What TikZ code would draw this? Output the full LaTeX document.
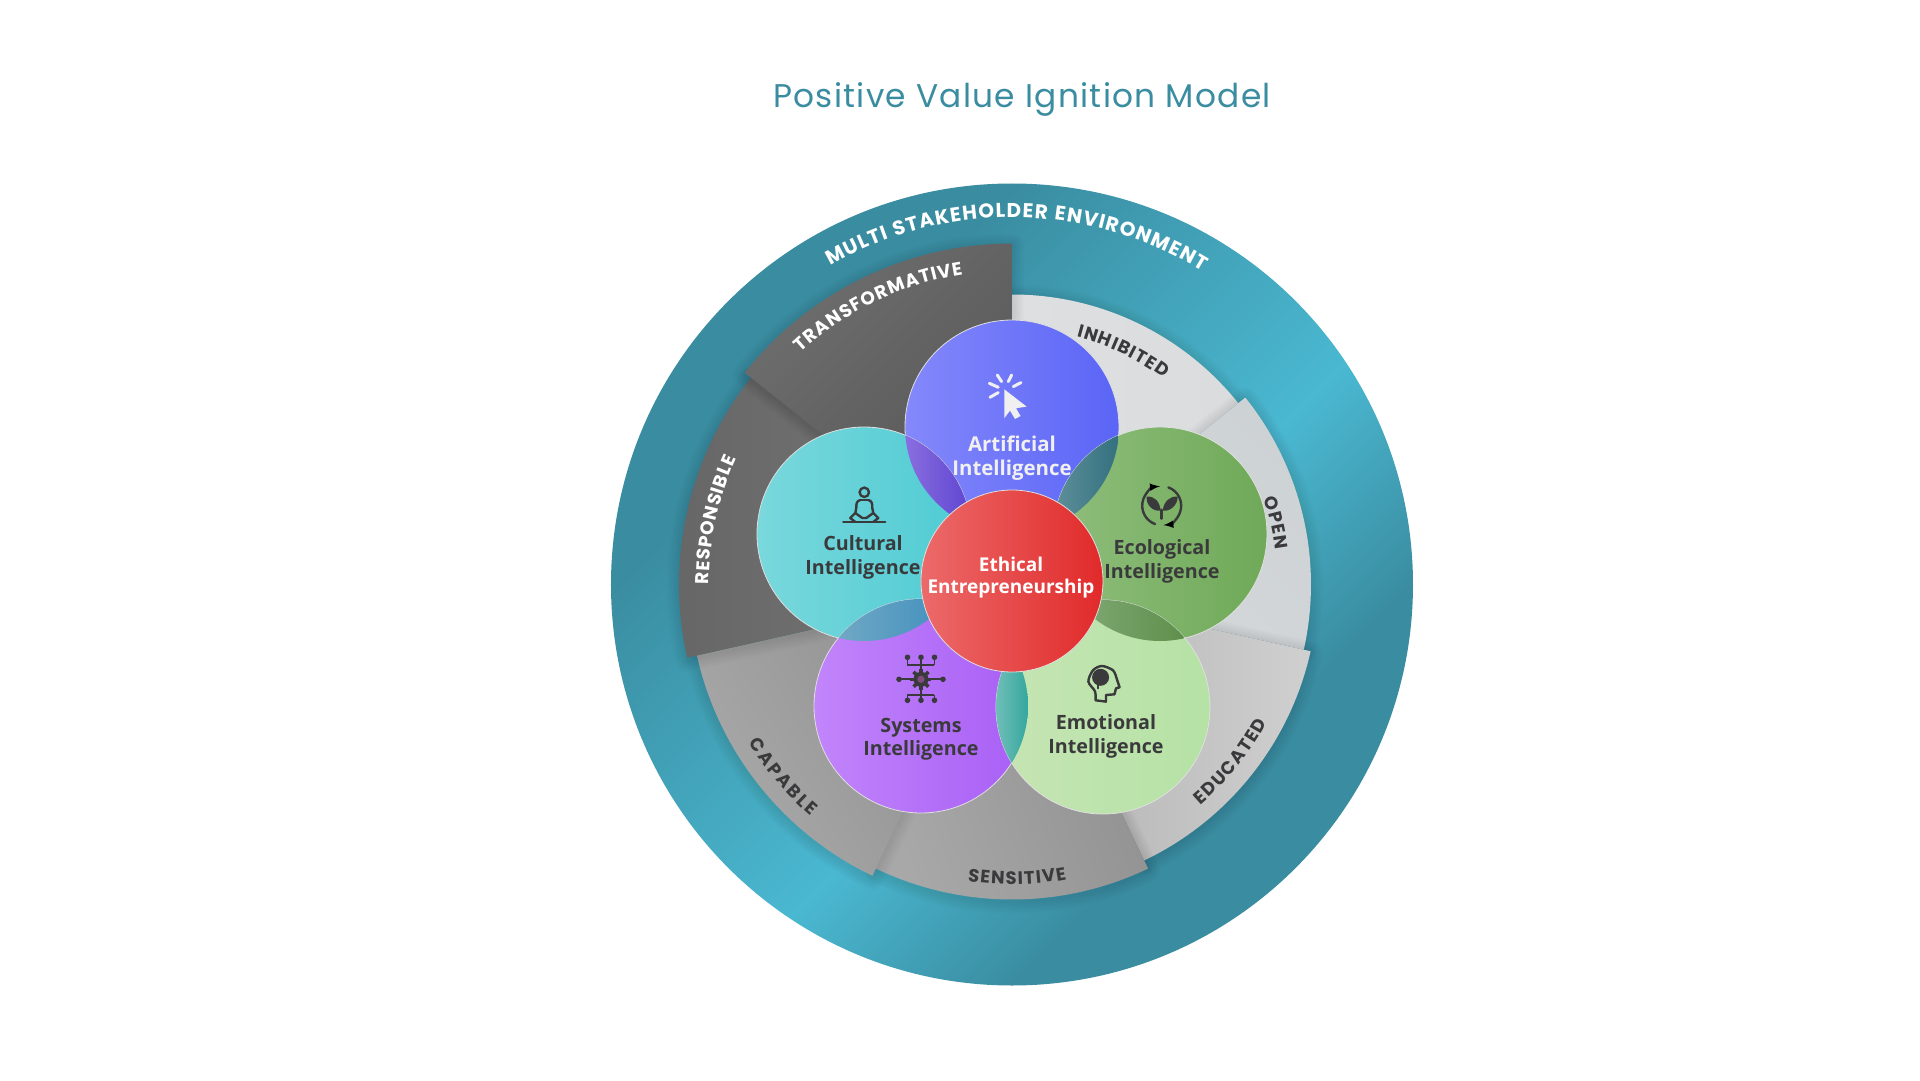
\documentclass[tikz,border=0pt]{standalone}
\usepackage{xcolor}
\usepackage{fontspec}
\setmainfont{Open Sans}
\newfontfamily\ringfont{Poppins}
\newfontfamily\titlefont[LetterSpace=4]{Poppins}
\usetikzlibrary{positioning, calc, decorations.text}
\definecolor{RingDark}{RGB}{58, 140, 160}
\definecolor{RingLight}{RGB}{74, 184, 209}
\definecolor{InkDark}{RGB}{58, 58, 60}
\pgfdeclarehorizontalshading{ringshade}{100bp}{color(0bp)=(RingDark); color(32bp)=(RingDark); color(55bp)=(RingLight); color(68bp)=(RingDark); color(100bp)=(RingDark)}
% one stepped wedge of the ring: radius, from, to, colours, angle
\newcommand{\ringsector}[6]{
    \foreach \w in {3,6,...,24} {
        \draw[black, opacity=0.013, line width=\w pt, line join=round, yshift=-2pt] (0,0) -- (#2:#1) arc[start angle=#2, end angle=#3, radius=#1] -- cycle;
    }
    \shade[left color=#4, right color=#5, shading angle=#6] (0,0) -- (#2:#1) arc[start angle=#2, end angle=#3, radius=#1] -- cycle;
}
% overlap of two circles: first, second, box corners, colours
\newcommand{\lens}[6]{
    \begin{scope}
        \clip (#1) circle (107);
        \clip (#2) circle (107);
        \shade[left color=#5, right color=#6] #3 rectangle #4;
    \end{scope}
}
\begin{document}
\begin{tikzpicture}[x=1pt, y=1pt]
    \tikzset{
        intel_circle/.style={circle, minimum size=214pt, inner sep=0pt, draw=white!75!gray, line width=0.8pt},
        intel_text/.style={font=\bfseries\fontsize{19.7}{23.5}\selectfont, align=center, text=InkDark},
        arc_text/.style n args={3}{decorate, decoration={text along path, text align={fit to path}, text color=#1, text={|\ringfont\bfseries\fontsize{#2}{#2}\selectfont|#3}}},
        icon_line/.style={draw=InkDark, line width=2.4pt, line cap=round, line join=round},
        ray_line/.style={draw=white!88!gray, line width=3pt, line cap=round}
    }
    \useasboundingbox (-1012,-495.5) rectangle (908,584.5);

    \node[font=\titlefont\fontsize{32.8}{36}\selectfont, text=RingDark] (title) at (10,485) {Positive Value Ignition Model};

    \shade[shading=ringshade, shading angle=-45] (0,0) circle (401);

    \ringsector{290}{38.7}{90}{{rgb,255:red,222;green,223;blue,225}}{{rgb,255:red,218;green,220;blue,222}}{90}
    \ringsector{299}{-12.6}{38.7}{{rgb,255:red,214;green,217;blue,219}}{{rgb,255:red,205;green,210;blue,212}}{135}
    \ringsector{306}{-64.4}{-12.6}{gray!62}{gray!37}{90}
    \ringsector{315}{-115.6}{-64.4}{gray!68}{gray!88}{110}
    \ringsector{323}{-167.3}{-115.6}{gray!68}{gray!90}{120}
    \ringsector{333}{141.6}{192.7}{black!60}{black!53}{90}
    \ringsector{341}{90}{141.6}{black!57}{black!67}{45}

    \path[arc_text={white}{20}{MULTI STAKEHOLDER ENVIRONMENT}] (119.7:367) arc[start angle=119.7, end angle=58.7, radius=367];
    \path[arc_text={white}{18.5}{TRANSFORMATIVE}] (132.3:314) arc[start angle=132.3, end angle=99, radius=314];
    \path[arc_text={white}{18.5}{RESPONSIBLE}] (180:303) arc[start angle=180, end angle=155.5, radius=303];
    \path[arc_text={InkDark}{18}{INHIBITED}] (75.4:256) arc[start angle=75.4, end angle=53.6, radius=256];
    \path[arc_text={InkDark}{18}{OPEN}] (18.8:266) arc[start angle=18.8, end angle=7.4, radius=266];
    \path[arc_text={InkDark}{18}{EDUCATED}] (310.5:290) arc[start angle=310.5, end angle=331.5, radius=290];
    \path[arc_text={InkDark}{18}{SENSITIVE}] (261.5:300) arc[start angle=261.5, end angle=280.5, radius=300];
    \path[arc_text={InkDark}{18}{CAPABLE}] (211:307) arc[start angle=211, end angle=229, radius=307];

    \node[intel_circle, left color={rgb,255:red,132;green,136;blue,251}, right color={rgb,255:red,90;green,101;blue,246}] (ai) at (0,157.5) {};
    \node[intel_circle, left color={rgb,255:red,121;green,216;blue,220}, right color={rgb,255:red,78;green,203;blue,211}] (cultural) at (-148,50.5) {};
    \node[intel_circle, left color={rgb,255:red,143;green,190;blue,124}, right color={rgb,255:red,111;green,169;blue,88}] (ecological) at (148,50.5) {};
    \node[intel_circle, left color={rgb,255:red,194;green,133;blue,251}, right color={rgb,255:red,168;green,94;blue,245}] (systems) at (-91,-121.5) {};
    \node[intel_circle, left color={rgb,255:red,198;green,229;blue,180}, right color={rgb,255:red,181;green,226;blue,165}] (emotional) at (91,-122.5) {};

    \lens{ai.center}{cultural.center}{(-107,30)}{(-41,160)}{{rgb,255:red,138;green,110;blue,224}}{{rgb,255:red,94;green,69;blue,208}}
    \lens{ai.center}{ecological.center}{(41,30)}{(107,160)}{{rgb,255:red,95;green,144;blue,154}}{{rgb,255:red,51;green,112;blue,127}}
    \lens{cultural.center}{systems.center}{(-173,-60)}{(-83,-10)}{{rgb,255:red,111;green,168;blue,196}}{{rgb,255:red,74;green,148;blue,191}}
    \lens{ecological.center}{emotional.center}{(83,-60)}{(172,-10)}{{rgb,255:red,122;green,165;blue,110}}{{rgb,255:red,95;green,143;blue,76}}
    \lens{systems.center}{emotional.center}{(-16,-200)}{(16,-40)}{{rgb,255:red,111;green,191;blue,184}}{{rgb,255:red,53;green,167;blue,158}}

    \node[circle, minimum size=182pt, inner sep=0pt, draw=white!75!gray, line width=0.8pt, left color={rgb,255:red,236;green,106;blue,106}, right color={rgb,255:red,225;green,42;blue,42}] (ethical) at (0,3.5) {};

    \node[intel_text, text=white!88!gray, font=\bfseries\fontsize{20.4}{23.5}\selectfont] (ai_text) at (0,126.5) {Artificial\\Intelligence};
    \node[intel_text] (cultural_text) at (-149,27) {Cultural\\Intelligence};
    \node[intel_text] (ecological_text) at (150,23) {Ecological\\Intelligence};
    \node[intel_text] (systems_text) at (-91,-154.5) {Systems\\Intelligence};
    \node[intel_text] (emotional_text) at (94,-152) {Emotional\\Intelligence};
    \node[intel_text, text=white, font=\bfseries\fontsize{19}{22.5}\selectfont] (ethical_text) at (-1,7) {Ethical\\Entrepreneurship};

    % cursor icon
    \begin{scope}[shift={(-7.7,195.2)}]
        \fill[white!88!gray] (0,0) -- (22.3,-17.3) -- (11.7,-19) -- (16.3,-26.7) -- (10.7,-29.7) -- (5.7,-21.3) -- (0,-29) -- cycle;
        \draw[ray_line] (-7,14.3) -- (-2.7,7.7);
        \draw[ray_line] (7.3,14.3) -- (4,7.7);
        \draw[ray_line] (16.7,6.7) -- (9,2.7);
        \draw[ray_line] (-15,6) -- (-6,2);
        \draw[ray_line] (-14.3,-8) -- (-6,-3.3);
    \end{scope}

    % meditation icon
    \begin{scope}[shift={(-147.7,62.5)}]
        \draw[icon_line] (-21,0) -- (21,0);
        \draw[icon_line] (0,29.7) circle (4.7);
        \draw[icon_line] (-4,22) .. controls (-8,21) and (-8,18) .. (-8,14) -- (-9,9) -- (-14,4) -- (-9,0);
        \draw[icon_line] (4,22) .. controls (8,21) and (8,18) .. (8,14) -- (9,9) -- (14,4) -- (9,0);
        \draw[icon_line] (-4,22) -- (4,22);
        \draw[icon_line] (-9,9) -- (-2,4) -- (2,4) -- (9,9);
    \end{scope}

    % leaf icon
    \begin{scope}[shift={(149.7,78.8)}]
        \draw[icon_line, -latex] (250:19.5) arc[start angle=250, end angle=95, radius=19.5];
        \draw[icon_line, -latex] (70:19.5) arc[start angle=70, end angle=-85, radius=19.5];
        \fill[InkDark] (-1,-5) .. controls (-2,4) and (-7,10) .. (-15,9) .. controls (-16,1) and (-9,-6) .. (-1,-5) -- cycle;
        \fill[InkDark] (1,-5) .. controls (2,4) and (8,10) .. (16,9) .. controls (16,1) and (9,-6) .. (1,-5) -- cycle;
        \draw[icon_line] (0,-4) -- (0,-13);
    \end{scope}

    % gear icon
    \begin{scope}[shift={(-91,-94.8)}]
        \foreach \a in {0,45,...,315} { \draw[draw=InkDark, line width=3.6pt] (\a:5) -- (\a:10.5); }
        \fill[InkDark] (0,0) circle (7.5);
        \fill[gray!60!violet] (0,0) circle (3.6);
        \draw[InkDark, line width=1.8pt] (-13.5,14.5) -- (13.5,14.5) (0,14.5) -- (0,9) (-13.5,22) -- (-13.5,14.5) (0,22) -- (0,14.5) (13.5,22) -- (13.5,14.5);
        \draw[InkDark, line width=1.8pt] (-13.5,-15.5) -- (13.5,-15.5) (0,-21) -- (0,-9) (-13.5,-21) -- (-13.5,-15.5) (13.5,-21) -- (13.5,-15.5);
        \draw[InkDark, line width=1.8pt] (-22,0) -- (-9,0) (9,0) -- (22,0);
        \foreach \px/\py in {-13.5/22, 0/22, 13.5/22, -13.5/-21, 0/-21, 13.5/-21, -22/0, 22/0} { \fill[InkDark] (\px,\py) circle (2.8); }
    \end{scope}

    % head icon
    \begin{scope}[shift={(92,-98.8)}]
        \draw[icon_line] plot[smooth] coordinates {(-8.4,-17) (-9,-8) (-15.6,1.7) (-11,13) (-2,17.3) (9,13) (12.6,5)} -- (15.6,-4) -- (12,-5) -- (10.5,-11) -- (2,-11.7) -- (2,-18.3) -- (-8.4,-17);
        \fill[InkDark] (-3.4,6) circle (8.5);
        \draw[icon_line] (-6,5) -- (-6,-5);
    \end{scope}
\end{tikzpicture}
\end{document}
